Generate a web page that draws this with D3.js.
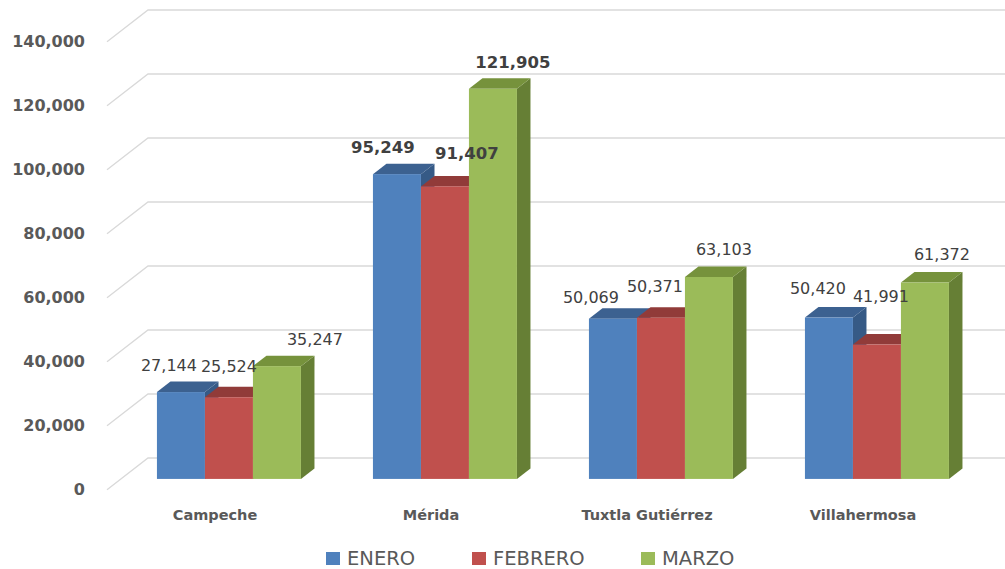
<!DOCTYPE html>
<html><head><meta charset="utf-8">
<script src="https://cdn.jsdelivr.net/npm/d3@7"></script>
<style>
html,body{margin:0;padding:0;background:#fff;}
svg{display:block;}
text{font-family:"DejaVu Sans",sans-serif;fill:#595959;}
</style></head>
<body>
<svg id="chart" width="1005" height="569"></svg>
<script>
const categories = ["Campeche", "Mérida", "Tuxtla Gutiérrez", "Villahermosa"];
const seriesNames = ["ENERO", "FEBRERO", "MARZO"];
const enero   = [27144, 95249, 50069, 50420];
const febrero = [25524, 91407, 50371, 41991];
const marzo   = [35247, 121905, 63103, 61372];
const yTicks  = [0, 20000, 40000, 60000, 80000, 100000, 120000, 140000];
// label nudges [dx, dy] (per category, per series)
const labelShift = [
  [[-12, 0], [0, -4], [38, 0]],
  [[-14, -0.5], [22, -6], [20, 0]],
  [[-22, 5], [-6, -5], [15, -1]],
  [[-11, -3], [4, -22], [17, -2]]
];

const values = [enero, febrero, marzo];
const front = ["#4F81BD", "#C0504D", "#9BBB59"];
const top_  = ["#3C6190", "#913B39", "#76923C"];
const side  = ["#365A86", "#843533", "#667F35"];

const svg = d3.select("#chart");
const DX = 41, DY = 31.7;          // full floor depth offset (back -> front)
const fBack = 0.33, fFront = 0.66; // bar depth fractions from back plane

const y = d3.scaleLinear().domain([0, 140000]).range([458, 10]);
const x = d3.scaleBand().domain(categories).range([148, 1012]).paddingInner(1/3).paddingOuter(1/6);
const xs = d3.scaleBand().domain(d3.range(3)).range([0, x.bandwidth()]);

// gridlines
const grid = svg.append("g");
yTicks.forEach(t => {
  grid.append("path")
    .attr("d", `M${148 - DX},${y(t) + DY}L148,${y(t)}L1012,${y(t)}`)
    .attr("fill", "none").attr("stroke", "#d9d9d9").attr("stroke-width", 1.3);
});

// y axis labels
svg.append("g").selectAll("text").data(yTicks).join("text")
  .attr("x", 85).attr("y", d => y(d) + DY).attr("dy", "0.36em")
  .attr("text-anchor", "end").style("font-weight", "bold").style("font-size", "16px")
  .text(d => d3.format(",")(d));

// bars
const bars = svg.append("g");
categories.forEach((c, ci) => {
  seriesNames.forEach((s, si) => {
    const v = values[si][ci];
    const x0 = x(c) + xs(si) - fFront * DX;
    const w = xs.bandwidth();
    const yb = y(0) + fFront * DY;
    const yt = y(v) + fFront * DY;
    const ddx = (fFront - fBack) * DX, ddy = (fFront - fBack) * DY;
    bars.append("path")
      .attr("d", `M${x0 + w},${yt}L${x0 + w + ddx},${yt - ddy}L${x0 + w + ddx},${yb - ddy}L${x0 + w},${yb}Z`)
      .attr("fill", side[si]);
    bars.append("path")
      .attr("d", `M${x0},${yt}L${x0 + ddx},${yt - ddy}L${x0 + w + ddx},${yt - ddy}L${x0 + w},${yt}Z`)
      .attr("fill", top_[si]);
    bars.append("rect")
      .attr("x", x0).attr("y", yt).attr("width", w).attr("height", yb - yt)
      .attr("fill", front[si]);
  });
});

// data labels
const labels = svg.append("g");
categories.forEach((c, ci) => {
  seriesNames.forEach((s, si) => {
    const v = values[si][ci];
    const cx = x(c) + xs(si) + xs.bandwidth() / 2 - fFront * DX;
    const big = ci === 1;
    labels.append("text")
      .attr("x", cx + labelShift[ci][si][0])
      .attr("y", y(v) + labelShift[ci][si][1])
      .attr("text-anchor", "middle")
      .style("font-size", big ? "16.5px" : "16px")
      .style("font-weight", big ? "bold" : "normal")
      .style("fill", "#404040")
      .text(d3.format(",")(v));
  });
});

// category labels
svg.append("g").selectAll("text").data(categories).join("text")
  .attr("x", d => x(d) + x.bandwidth() / 2 - DX)
  .attr("y", 519.5)
  .attr("text-anchor", "middle").style("font-weight", "bold").style("font-size", "14.5px")
  .text(d => d);

// legend
const legX = [326, 472, 641];
const leg = svg.append("g");
seriesNames.forEach((s, i) => {
  leg.append("rect").attr("x", legX[i]).attr("y", 552).attr("width", 14).attr("height", 13).attr("fill", front[i]);
  leg.append("text").attr("x", legX[i] + 21).attr("y", 565).style("font-size", "19.5px").text(s);
});
</script>
</body></html>
